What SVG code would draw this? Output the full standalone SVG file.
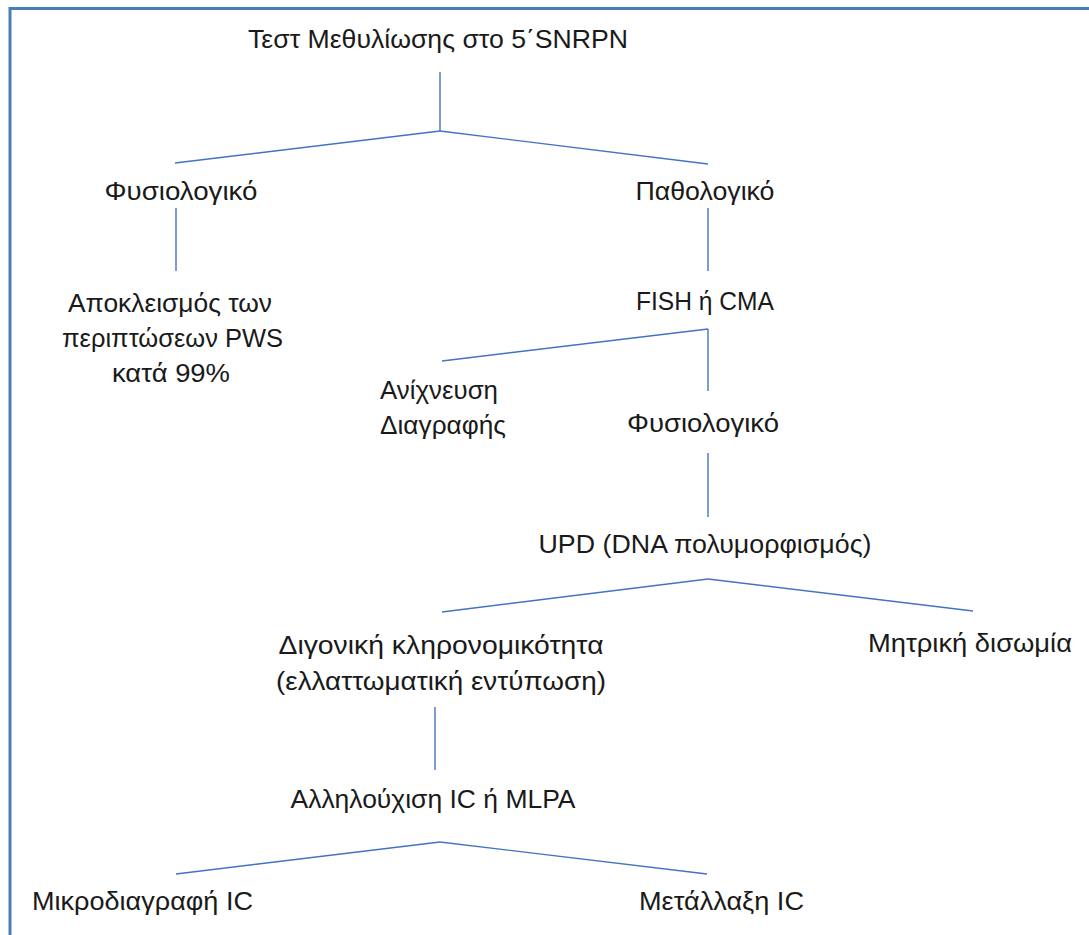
<svg xmlns="http://www.w3.org/2000/svg" width="1089" height="935" viewBox="0 0 1089 935">
<style>
text{font-family:"Liberation Sans",Arial,sans-serif;font-size:25px;fill:#1a1a1a}
.c{text-anchor:middle}
.ln{stroke:#4472C4;stroke-width:1.4;fill:none}
</style>
<rect x="0" y="0" width="1089" height="935" fill="#ffffff"/>
<rect x="10" y="8.5" width="1100" height="960" fill="none" stroke="#4A7EBB" stroke-width="3"/>
<g id="connectors">
<line class="ln" x1="440" y1="72" x2="440" y2="131"/>
<line class="ln" x1="440" y1="131" x2="175" y2="163"/>
<line class="ln" x1="440" y1="131" x2="708" y2="164"/>
<line class="ln" x1="176" y1="208" x2="176" y2="271"/>
<line class="ln" x1="708" y1="208" x2="708" y2="271"/>
<line class="ln" x1="708" y1="329" x2="442" y2="361"/>
<line class="ln" x1="708" y1="329" x2="708" y2="391"/>
<line class="ln" x1="708" y1="453" x2="708" y2="517"/>
<line class="ln" x1="708" y1="579" x2="442" y2="612"/>
<line class="ln" x1="708" y1="579" x2="973" y2="611"/>
<line class="ln" x1="435" y1="707" x2="435" y2="770"/>
<line class="ln" x1="440" y1="842" x2="176" y2="874"/>
<line class="ln" x1="440" y1="842" x2="707" y2="874"/>
</g>
<g id="n-test"><text class="c" x="438" y="48" textLength="380" lengthAdjust="spacingAndGlyphs">Τεστ Μεθυλίωσης στο 5΄SNRPN</text></g>
<g id="n-fysio1"><text class="c" x="181" y="200" textLength="153" lengthAdjust="spacingAndGlyphs">Φυσιολογικό</text></g>
<g id="n-patho"><text class="c" x="705" y="200" textLength="139" lengthAdjust="spacingAndGlyphs">Παθολογικό</text></g>
<g id="n-apokl">
<text class="c" x="170" y="312" textLength="204" lengthAdjust="spacingAndGlyphs">Αποκλεισμός των</text>
<text class="c" x="172.5" y="347" textLength="221" lengthAdjust="spacingAndGlyphs">περιπτώσεων PWS</text>
<text class="c" x="171" y="382" textLength="118" lengthAdjust="spacingAndGlyphs">κατά 99%</text>
</g>
<g id="n-fish"><text class="c" x="705" y="310" textLength="138" lengthAdjust="spacingAndGlyphs">FISH ή CMA</text></g>
<g id="n-anix">
<text x="380" y="399" textLength="118" lengthAdjust="spacingAndGlyphs">Ανίχνευση</text>
<text x="380" y="434" textLength="126" lengthAdjust="spacingAndGlyphs">Διαγραφής</text>
</g>
<g id="n-fysio2"><text class="c" x="703" y="432" textLength="152" lengthAdjust="spacingAndGlyphs">Φυσιολογικό</text></g>
<g id="n-upd"><text class="c" x="705" y="553" textLength="333" lengthAdjust="spacingAndGlyphs">UPD (DNA πολυμορφισμός)</text></g>
<g id="n-digon">
<text class="c" x="441" y="654" textLength="325" lengthAdjust="spacingAndGlyphs">Διγονική κληρονομικότητα</text>
<text class="c" x="441" y="690" textLength="330" lengthAdjust="spacingAndGlyphs">(ελλαττωματική εντύπωση)</text>
</g>
<g id="n-mitr"><text class="c" x="970" y="652" textLength="204" lengthAdjust="spacingAndGlyphs">Μητρική δισωμία</text></g>
<g id="n-allil"><text class="c" x="433" y="808" textLength="285" lengthAdjust="spacingAndGlyphs">Αλληλούχιση IC ή MLPA</text></g>
<g id="n-mikro"><text class="c" x="142.5" y="910" textLength="221" lengthAdjust="spacingAndGlyphs">Μικροδιαγραφή IC</text></g>
<g id="n-metal"><text class="c" x="721.5" y="910" textLength="165" lengthAdjust="spacingAndGlyphs">Μετάλλαξη IC</text></g>
</svg>
